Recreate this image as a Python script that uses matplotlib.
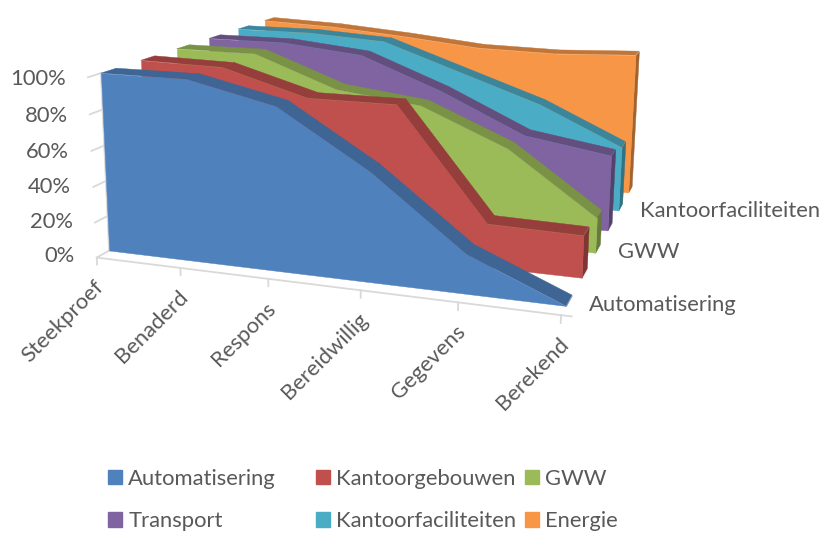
#!/usr/bin/env python3
"""Response per sector, 3D area chart."""

import numpy as np
import matplotlib
matplotlib.use('Agg')
import matplotlib.pyplot as plt
from matplotlib.patches import Patch
from mpl_toolkits.mplot3d.art3d import Poly3DCollection

categories = ['Steekproef', 'Benaderd', 'Respons', 'Bereidwillig', 'Gegevens', 'Berekend']
series_names = ['Automatisering', 'Kantoorgebouwen', 'GWW', 'Transport',
                'Kantoorfaciliteiten', 'Energie']
value_ticks = [0, 20, 40, 60, 80, 100]

automatisering = [100, 100, 89, 59, 21, 0]
kantoorgebouwen = [100, 99, 85, 85, 24, 23]
gww = [100, 100, 82, 76, 55, 20]
transport = [100, 100, 95, 76, 53, 45]
kantoorfaciliteiten = [100, 100, 97, 80, 63, 40]
energie = [100, 98, 94, 89, 88, 90]
all_values = [automatisering, kantoorgebouwen, gww, transport, kantoorfaciliteiten, energie]

colors = ['#4F81BD', '#C0504D', '#9BBB59', '#8064A2', '#4BACC6', '#F79646']

W, H = 822, 533
DEPTH = 0.37
BACK = 5.67
FRONT = -0.3
GRID = '#D9D9D9'
TEXT = '#595959'
FS = 15.8

plt.rcParams['font.family'] = ['Lato', 'DejaVu Sans']

# camera fitted on box corners: (category, series, value) -> image pixel
world = np.array([(0, 0, 0), (0, 0, 100), (5, 0, 0), (0, BACK, 0), (0, BACK, 100),
                  (5, BACK, 0), (5, BACK, 100), (5, 5, 0), (5, 1, 0), (0, 1, 100),
                  (0, 5, 100), (5, 3, 0)], float)
pixel = np.array([(110, 250), (100, 73), (566, 307), (282, 152), (282, 15),
                  (640, 180), (642, 34), (622, 192), (583, 278), (141, 60),
                  (265, 20), (607, 230)], float)
rows, rhs = [], []
for (x, y, z), (u, v) in zip(world, pixel):
    rows.append([x, y, z, 1, 0, 0, 0, 0, -u * x, -u * y, -u * z])
    rows.append([0, 0, 0, 0, x, y, z, 1, -v * x, -v * y, -v * z])
    rhs += [u, v]
cam = np.append(np.linalg.lstsq(np.array(rows), np.array(rhs), rcond=None)[0], 1).reshape(3, 4)

fig = plt.figure(figsize=(W / 100, H / 100), dpi=100)
# square axes as wide as the figure, nothing gets clipped
ax = fig.add_axes([0, (H - W) / 2 / H, 1, W / H], projection='3d', computed_zorder=False)
ax.set_axis_off()


def camera_proj():
    to_display = np.array([[1, 0, 0], [0, -1, H], [0, 0, 1]], float)
    m = ax.transData.inverted().get_matrix() @ to_display @ cam
    return np.vstack([m[0], m[1], [0, 1, 0, 0], m[2]])


ax.get_proj = camera_proj


def label_at(x, y, z, dx, dy, s, **kw):
    # text next to a 3D point, dx/dy in pixels
    u, v, w = cam @ np.array([x, y, z, 1.0])
    fig.text((u / w + dx) / W, 1 - (v / w + dy) / H, s, fontsize=FS, color=TEXT, **kw)


def shade(color, f):
    return tuple(c * f for c in matplotlib.colors.to_rgb(color))


def wall_line(xs, ys, zs, lw=1.3):
    ax.plot(xs, ys, zs, color=GRID, lw=lw, zorder=1)


# walls and floor edges
wall_line([0, 5], [FRONT, FRONT], [0, 0])
wall_line([5, 5], [FRONT, BACK], [0, 0])
wall_line([0, 0], [0, 0], [0, 100])
wall_line([0, 0], [0, BACK], [100, 100])
wall_line([0, 5], [BACK, BACK], [100, 100])
wall_line([5, 5], [BACK, BACK], [0, 100])
for t in value_ticks:
    wall_line([0, 0], [FRONT, 0], [t, t])
    wall_line([5, 5.06], [BACK, BACK], [t, t])
for i in range(len(categories)):
    wall_line([i, i], [FRONT, FRONT], [0, -4])
for i in range(len(series_names)):
    wall_line([5, 5.1], [FRONT + i, FRONT + i], [0, 0])
wall_line([5, 5.1], [BACK, BACK], [0, 0])

# back to front
xs = np.arange(len(categories))
for i in range(len(series_names) - 1, -1, -1):
    vals = all_values[i]
    y0, y1 = i, i + DEPTH
    order = 10 + (len(series_names) - i) * 3
    band = [[(xs[k], y0, vals[k]), (xs[k + 1], y0, vals[k + 1]),
             (xs[k + 1], y1, vals[k + 1]), (xs[k], y1, vals[k])] for k in range(len(xs) - 1)]
    side = [[(xs[-1], y0, 0), (xs[-1], y1, 0), (xs[-1], y1, vals[-1]), (xs[-1], y0, vals[-1])]]
    front = [[(xs[0], y0, 0)] + [(xs[k], y0, vals[k]) for k in range(len(xs))] + [(xs[-1], y0, 0)]]
    for polys, f, z in [(side, 0.66, 0), (band, 0.78, 1), (front, 1.0, 2)]:
        col = Poly3DCollection(polys, facecolors=[shade(colors[i], f)] * len(polys),
                               edgecolors=[shade(colors[i], f)] * len(polys),
                               linewidths=0.3, zorder=order + z)
        ax.add_collection3d(col, autolim=False)

# labels
for t in value_ticks:
    label_at(0, 0, t, -35, 6, f'{t}%', ha='right', va='center')
for i, name in enumerate(categories):
    label_at(i, FRONT, 0, -3, 19, name, ha='right', va='top', rotation=45, rotation_mode='anchor')
for i in [0, 2, 4]:
    label_at(5, i + 0.1, 0, 21, 2, series_names[i], ha='left', va='center')

# one legend per column, the columns are not evenly spaced in the original
handles = [Patch(color=c) for c in colors]
for k, left in enumerate([108, 316, 525]):
    fig.legend(handles[k::3], series_names[k::3], loc='upper left',
               bbox_to_anchor=(left / W, 1 - 469 / H), frameon=False, fontsize=FS,
               labelcolor=TEXT, handlelength=0.63, handleheight=0.63, handletextpad=0.3,
               labelspacing=1.02, borderpad=0, borderaxespad=0)

plt.savefig('out.png', dpi=100)
